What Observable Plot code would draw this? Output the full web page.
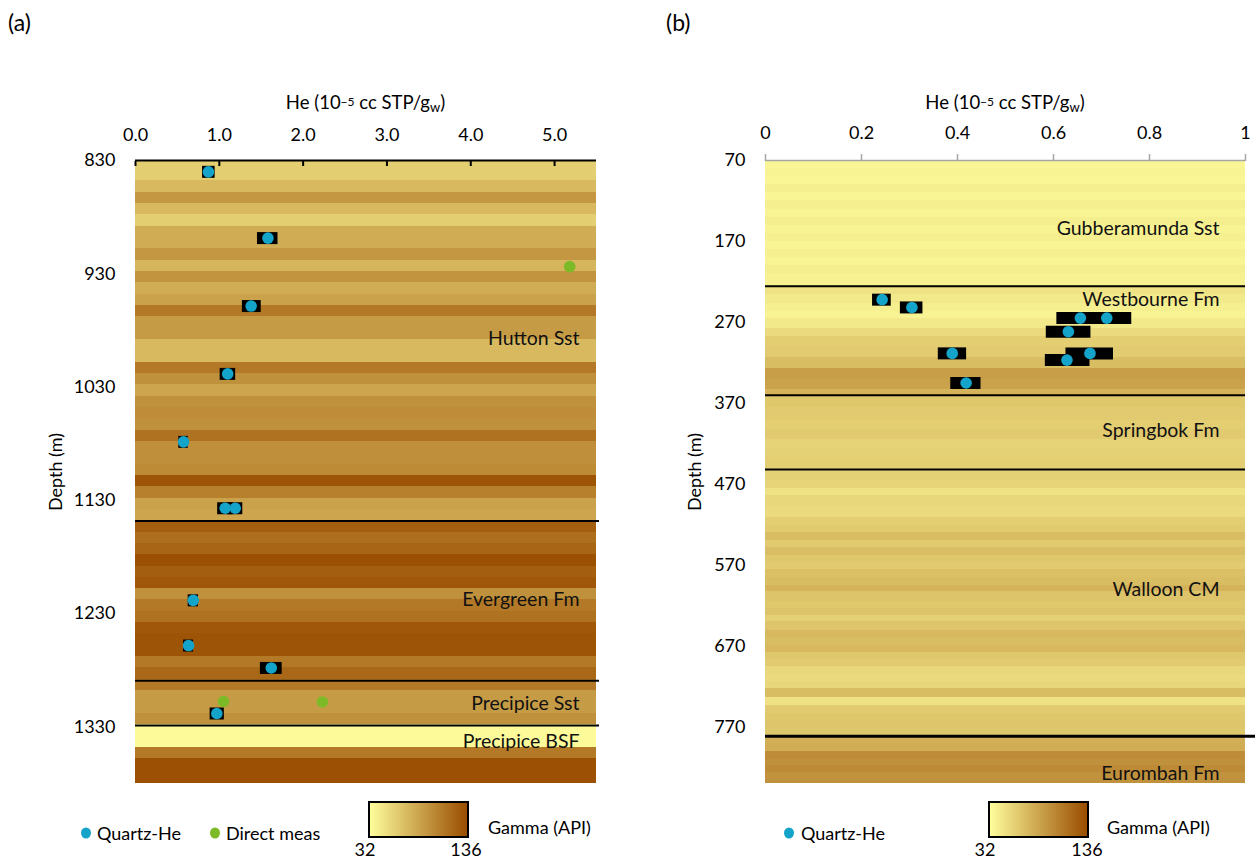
<!DOCTYPE html>
<html>
<head>
<meta charset="utf-8">
<script src="https://cdn.jsdelivr.net/npm/d3@7"></script>
<script src="https://cdn.jsdelivr.net/npm/@observablehq/plot@0.6"></script>
<style>
  body { margin: 0; background: #fff; font-family: Lato, "Open Sans", sans-serif; color: #000; }
  #root { position: relative; width: 1255px; height: 860px; overflow: hidden; }
  .abs { position: absolute; white-space: nowrap; line-height: 1; }
  .panel { position: absolute; top: 0; }
  .ttl { font-size: 18.5px; transform: translate(-50%, -50%); }
  .ttl sup { font-size: 12px; position: relative; top: -3px; vertical-align: baseline; }
  .ttl sub { font-size: 13px; position: relative; top: 3px; vertical-align: baseline; }
  .ylab { font-size: 18px; transform: translate(-50%, -50%) rotate(-90deg); }
  .tag { font-size: 23px; transform: translate(0, -50%); }
  .leg { font-size: 18px; transform: translate(0, -50%); }
  .legc { font-size: 18px; transform: translate(-50%, -50%); }
  .sw { position: absolute; width: 10px; height: 11px; border-radius: 50%; transform: translate(-50%, -50%); }
  .ramp { position: absolute; box-sizing: border-box; border: 2px solid #000; }
</style>
</head>
<body>
<div id="root"></div>
<script>
// ---------- Panel (a) data ----------
const heTicksA = [0, 1, 2, 3, 4, 5];
const depthTicksA = [830, 930, 1030, 1130, 1230, 1330];

const quartzDepthA = [840, 898.5, 958.5, 1018.4, 1078.4, 1137, 1137, 1218.3, 1258.2, 1278, 1318.2];
const quartzHeA    = [0.87, 1.58, 1.38, 1.10, 0.573, 1.07, 1.19, 0.689, 0.633, 1.62, 0.97];
const quartzLoA    = [0.80, 1.455, 1.275, 1.01, 0.517, 0.98, 1.10, 0.629, 0.573, 1.49, 0.89];
const quartzHiA    = [0.95, 1.70, 1.50, 1.195, 0.629, 1.16, 1.28, 0.752, 0.692, 1.75, 1.06];

const directDepthA = [923.7, 1307.6, 1308];
const directHeA    = [5.18, 1.05, 2.23];

const formNamesA  = ["Hutton Sst", "Evergreen Fm", "Precipice Sst", "Precipice BSF"];
const formDepthsA = [987, 1217.4, 1310, 1343];
const boundsA     = [1148.3, 1289.4, 1328.8];

const gammaTopA = [830, 838, 848, 858, 868, 878, 888, 898, 908, 918,
                   928, 938, 948, 958, 968, 978, 988, 998, 1008, 1018,
                   1028, 1038, 1048, 1058, 1068, 1078, 1088, 1098, 1108, 1118,
                   1128, 1138, 1148, 1158, 1168, 1178, 1188, 1198, 1208, 1218,
                   1228, 1238, 1248, 1258, 1268, 1278, 1288, 1298, 1308, 1318,
                   1328, 1338, 1348, 1358, 1368];
const gammaA = [60, 60, 72, 92, 72, 60, 80, 80, 92, 74,
                94, 80, 86, 110, 90, 90, 72, 72, 110, 96,
                84, 96, 98, 96, 114, 97, 97, 100, 132, 106,
                86, 84, 126, 116, 122, 134, 126, 130, 96, 110,
                114, 130, 132, 132, 110, 120, 110, 90, 90, 96,
                34, 34, 110, 134, 134];

// ---------- Panel (b) data ----------
const heTicksB = [0, 0.2, 0.4, 0.6, 0.8, 1];
const depthTicksB = [70, 170, 270, 370, 470, 570, 670, 770];

const quartzDepthB = [242, 251.6, 264.8, 264.8, 281.6, 308.4, 308.4, 316.7, 345];
const quartzHeB    = [0.243, 0.305, 0.656, 0.711, 0.631, 0.389, 0.676, 0.628, 0.418];
const quartzLoB    = [0.223, 0.281, 0.607, 0.66, 0.585, 0.36, 0.626, 0.583, 0.386];
const quartzHiB    = [0.262, 0.328, 0.705, 0.763, 0.678, 0.419, 0.725, 0.676, 0.449];

const formNamesB  = ["Gubberamunda Sst", "Westbourne Fm", "Springbok Fm", "Walloon CM", "Eurombah Fm"];
const formDepthsB = [154.4, 242, 403.5, 601, 827.6];
const boundsB     = [225.3, 360, 452];
const baseBoundB  = [781.6];

const gammaTopB = [70, 80, 90, 100, 110, 120, 130, 140, 150, 160,
                   170, 180, 190, 200, 210, 225, 235, 247, 257, 265,
                   278, 288, 300, 313, 327, 341, 353, 360, 375, 391,
                   403, 415, 427, 440, 452, 465, 475, 484, 498, 511,
                   521, 530, 540, 548, 558, 567, 576, 586, 595, 603,
                   615, 624, 632, 640, 651, 660, 670, 678, 687, 696,
                   705, 714, 723, 734, 744, 753, 763, 772, 781, 790,
                   800, 810, 818, 827];
const gammaB = [36, 38, 36, 40, 37, 40, 38, 41, 38, 40,
                37, 40, 38, 41, 39, 48, 44, 40, 38, 44,
                52, 60, 62, 70, 88, 86, 76, 64, 62, 60,
                62, 57, 58, 60, 58, 56, 48, 54, 52, 60,
                62, 70, 63, 69, 64, 62, 68, 70, 76, 66,
                64, 66, 58, 65, 72, 70, 73, 64, 62, 54,
                52, 55, 70, 48, 62, 64, 65, 64, 78, 80,
                98, 96, 100, 95];

// ---------- styles ----------
const gammaDomain = [32, 136];
const gammaRange = ["#fefd9c", "#9a4d00"];
const quartzColor = "#14a3c9";
const directColor = "#7cbb27";

// ---------- build tables ----------
function bands(tops, vals, bottom) {
  return tops.map((t, i) => ({y1: t, y2: i + 1 < tops.length ? tops[i + 1] : bottom, g: vals[i]}));
}
function pts(depth, he, lo, hi) {
  return depth.map((d, i) => ({depth: d, he: he[i], lo: lo ? lo[i] : null, hi: hi ? hi[i] : null}));
}
const bandsA = bands(gammaTopA, gammaA, 1380);
const bandsB = bands(gammaTopB, gammaB, 840);
const quartzA = pts(quartzDepthA, quartzHeA, quartzLoA, quartzHiA);
const directA = pts(directDepthA, directHeA);
const quartzB = pts(quartzDepthB, quartzHeB, quartzLoB, quartzHiB);
const formA = formNamesA.map((n, i) => ({name: n, depth: formDepthsA[i]}));
const formB = formNamesB.map((n, i) => ({name: n, depth: formDepthsB[i]}));

const colorOpts = {type: "linear", domain: gammaDomain, range: gammaRange, interpolate: "rgb", clamp: true};
const baseStyle = {fontFamily: "Lato, 'Open Sans', sans-serif", fontSize: "18px", color: "#000", background: "transparent", overflow: "visible"};

const plotA = Plot.plot({
  width: 627, height: 790,
  marginTop: 160, marginLeft: 135, marginRight: 31, marginBottom: 7,
  x: {domain: [0, 5.5]},
  y: {domain: [830, 1380], reverse: true},
  color: colorOpts,
  style: baseStyle,
  marks: [
    Plot.rect(bandsA, {y1: "y1", y2: "y2", fill: "g", shapeRendering: "crispEdges"}),
    Plot.ruleY(boundsA, {stroke: "#000", strokeWidth: 2, insetRight: -3}),
    Plot.ruleY(quartzA, {y: "depth", x1: "lo", x2: "hi", stroke: "#000", strokeWidth: 12}),
    Plot.dot(quartzA, {x: "he", y: "depth", r: 5.8, fill: quartzColor}),
    Plot.dot(directA, {x: "he", y: "depth", r: 5.8, fill: directColor}),
    Plot.text(formA, {y: "depth", text: "name", frameAnchor: "right", textAnchor: "end", lineAnchor: "middle", dx: -17, fontSize: 19.5, fill: "#111"}),
    Plot.ruleY([830], {stroke: "#000", strokeWidth: 2}),
    Plot.axisX(heTicksA, {anchor: "top", tickSize: -5, fill: "none", stroke: "#000", strokeWidth: 2, label: null}),
    Plot.axisX(heTicksA, {anchor: "top", tickSize: 0, tickPadding: 20, tickFormat: d3.format(".1f"), label: null}),
    Plot.axisY(depthTicksA, {anchor: "left", tickSize: 0, tickPadding: 20, tickFormat: d => String(d), label: null})
  ]
});

const plotB = Plot.plot({
  width: 628, height: 790,
  marginTop: 160, marginLeft: 138, marginRight: 10, marginBottom: 7,
  x: {domain: [0, 1]},
  y: {domain: [70, 840], reverse: true},
  color: colorOpts,
  style: baseStyle,
  marks: [
    Plot.rect(bandsB, {y1: "y1", y2: "y2", fill: "g", shapeRendering: "crispEdges"}),
    Plot.ruleY(boundsB, {stroke: "#000", strokeWidth: 2}),
    Plot.ruleY(baseBoundB, {stroke: "#000", strokeWidth: 3, insetRight: -10}),
    Plot.ruleY(quartzB, {y: "depth", x1: "lo", x2: "hi", stroke: "#000", strokeWidth: 12}),
    Plot.dot(quartzB, {x: "he", y: "depth", r: 5.8, fill: quartzColor}),
    Plot.text(formB, {y: "depth", text: "name", frameAnchor: "right", textAnchor: "end", lineAnchor: "middle", dx: -26, fontSize: 19.5, fill: "#111"}),
    Plot.ruleY([70], {stroke: "#a6a6a6", strokeWidth: 1.5}),
    Plot.axisX(heTicksB, {anchor: "top", tickSize: 7, tickPadding: 15, stroke: "#a6a6a6", strokeWidth: 1.5, tickFormat: d => String(d), label: null}),
    Plot.axisY(depthTicksB, {anchor: "left", tickSize: 0, tickPadding: 20, tickFormat: d => String(d), label: null})
  ]
});

const root = document.getElementById("root");
function add(html) { root.insertAdjacentHTML("beforeend", html); }
function panel(node, left) {
  const d = document.createElement("div");
  d.className = "panel";
  d.style.left = left + "px";
  d.appendChild(node);
  root.appendChild(d);
}
panel(plotA, 0);
panel(plotB, 627);

// Panel tags, axis titles
add(`<div class="abs tag" style="left:8px;top:22px">(a)</div>`);
add(`<div class="abs tag" style="left:666px;top:22px">(b)</div>`);
add(`<div class="abs ttl" style="left:365.5px;top:102px">He (10<sup>−5</sup> cc STP/g<sub>w</sub>)</div>`);
add(`<div class="abs ttl" style="left:1005px;top:102px">He (10<sup>−5</sup> cc STP/g<sub>w</sub>)</div>`);
add(`<div class="abs ylab" style="left:55px;top:472px">Depth (m)</div>`);
add(`<div class="abs ylab" style="left:694px;top:472px">Depth (m)</div>`);

// Legends
const grad = `linear-gradient(to right, ${gammaRange[0]}, ${gammaRange[1]})`;
add(`<div class="sw" style="left:86px;top:833px;background:${quartzColor}"></div>`);
add(`<div class="abs leg" style="left:97px;top:833px">Quartz-He</div>`);
add(`<div class="sw" style="left:215px;top:833px;background:${directColor}"></div>`);
add(`<div class="abs leg" style="left:226px;top:833px">Direct meas</div>`);
add(`<div class="ramp" style="left:368px;top:801px;width:101px;height:37px;background:${grad}"></div>`);
add(`<div class="abs legc" style="left:365px;top:849px">${gammaDomain[0]}</div>`);
add(`<div class="abs legc" style="left:466px;top:849px">${gammaDomain[1]}</div>`);
add(`<div class="abs leg" style="left:488px;top:827px">Gamma (API)</div>`);

add(`<div class="sw" style="left:789px;top:833px;background:${quartzColor}"></div>`);
add(`<div class="abs leg" style="left:801px;top:833px">Quartz-He</div>`);
add(`<div class="ramp" style="left:988px;top:801px;width:101px;height:37px;background:${grad}"></div>`);
add(`<div class="abs legc" style="left:985px;top:849px">${gammaDomain[0]}</div>`);
add(`<div class="abs legc" style="left:1087px;top:849px">${gammaDomain[1]}</div>`);
add(`<div class="abs leg" style="left:1107px;top:827px">Gamma (API)</div>`);
</script>
</body>
</html>
